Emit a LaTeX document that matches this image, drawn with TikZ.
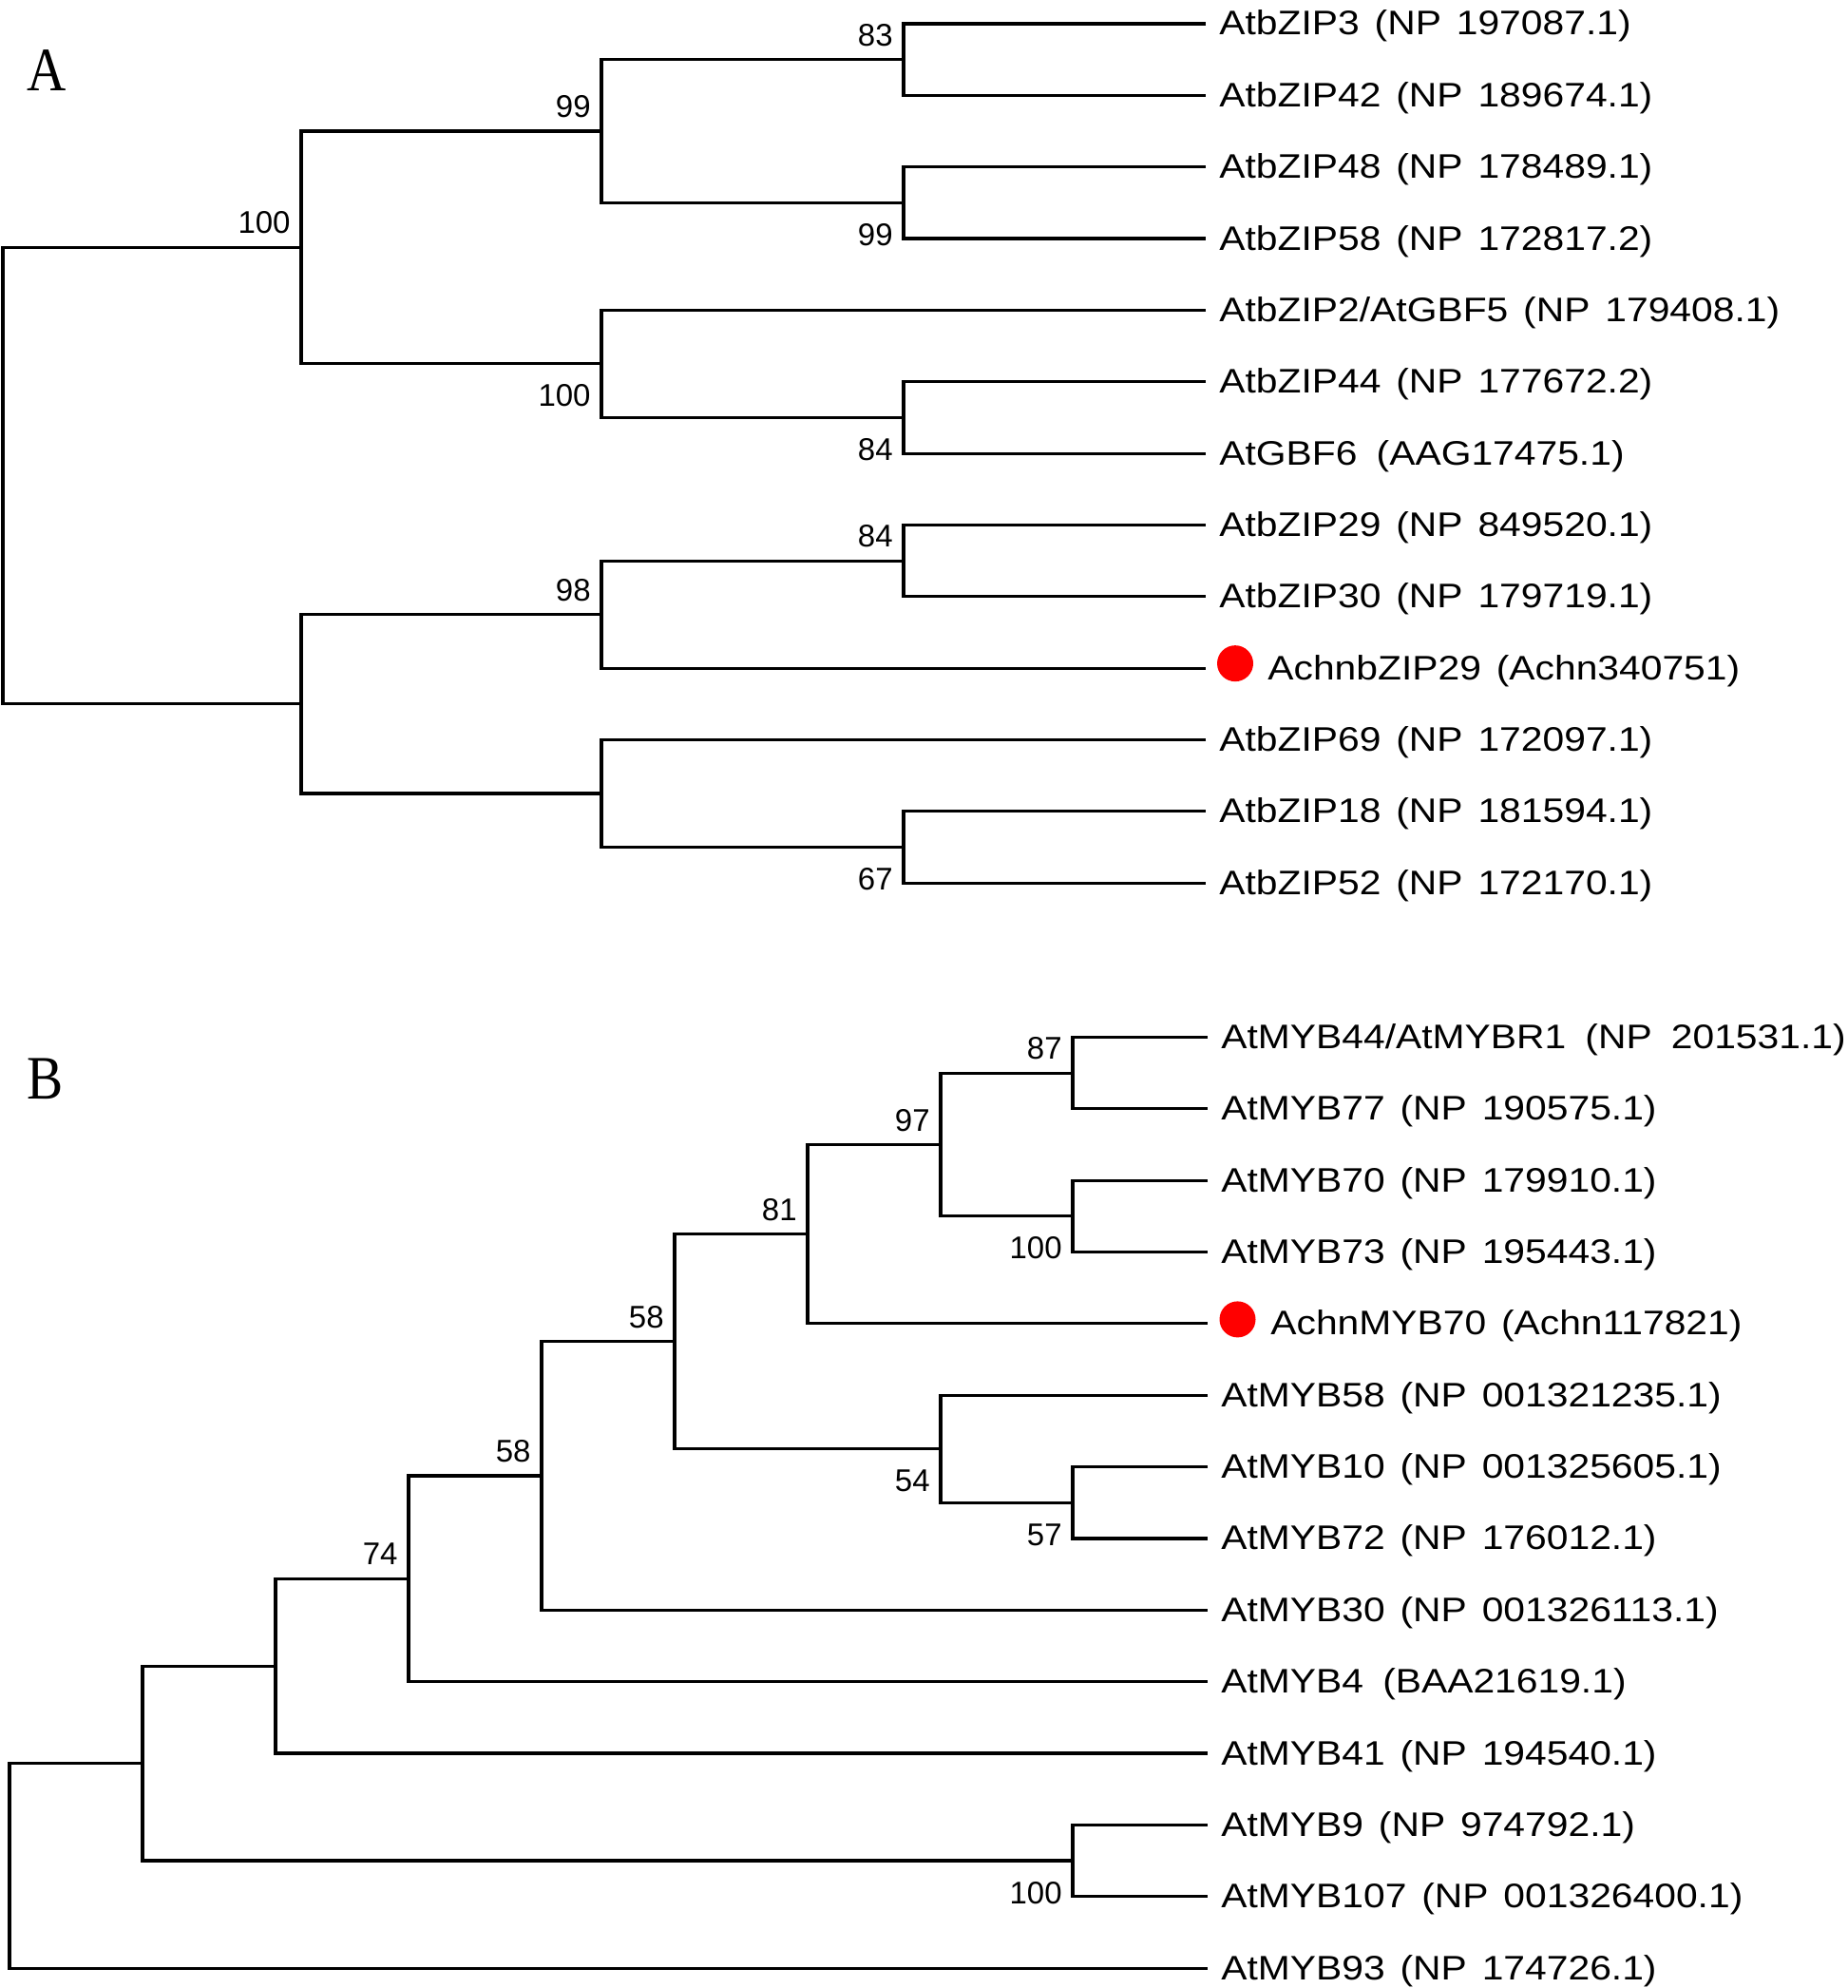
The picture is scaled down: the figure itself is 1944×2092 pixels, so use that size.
\documentclass[tikz,border=0pt]{standalone}
\usepackage{fontspec}
\setmainfont{Liberation Sans}
\newfontfamily\leaffont{Liberation Sans}[FakeStretch=1.14,WordSpace=1.4]
\newfontfamily\bootfont{Liberation Sans}
\newfontfamily\tagfont{Liberation Serif}[FakeStretch=0.88]
\begin{document}
\begin{tikzpicture}[x=0.5pt,y=-0.5pt,
  branch/.style={line width=1.55pt,line cap=butt,line join=miter},
  leaflab/.style={anchor=base west,inner sep=0pt,font=\leaffont\fontsize{17.9}{20}\selectfont},
  bsup/.style={anchor=base east,inner sep=0pt,font=\bootfont\fontsize{16.5}{18}\selectfont},
  paneltag/.style={anchor=base west,inner sep=0pt,font=\tagfont\fontsize{32.5}{36}\selectfont},
  hitdot/.style={fill={rgb,255:red,255;green,0;blue,0}}]
\fill[white] (0,0) rectangle (1944,2092);
\useasboundingbox (0,0) rectangle (1944,2092);

% ---------------- Panel A ----------------
\node[paneltag] (tagA) at (28,96) {A};
% leaves
\coordinate (La0) at (1269,25.0);
\coordinate (La1) at (1269,100.35);
\coordinate (La2) at (1269,175.7);
\coordinate (La3) at (1269,251.05);
\coordinate (La4) at (1269,326.4);
\coordinate (La5) at (1269,401.75);
\coordinate (La6) at (1269,477.1);
\coordinate (La7) at (1269,552.45);
\coordinate (La8) at (1269,627.8);
\coordinate (La9) at (1269,703.15);
\coordinate (La10) at (1269,778.5);
\coordinate (La11) at (1269,853.85);
\coordinate (La12) at (1269,929.2);
% internal nodes
\coordinate (a83) at (951,62.7);
\coordinate (a99b) at (951,213.4);
\coordinate (a99) at (633,138.0);
\coordinate (a84) at (951,439.4);
\coordinate (a100b) at (633,382.9);
\coordinate (a100) at (317,260.5);
\coordinate (a84b) at (951,590.1);
\coordinate (a98) at (633,646.6);
\coordinate (a67) at (951,891.5);
\coordinate (aL) at (633,835.0);
\coordinate (aR2) at (317,740.8);
\coordinate (aroot) at (3,500.7);
% branches
\draw[branch] (La0) -| (a83) |- (La1);
\draw[branch] (La2) -| (a99b) |- (La3);
\draw[branch] (a83) -| (a99) |- (a99b);
\draw[branch] (La5) -| (a84) |- (La6);
\draw[branch] (La4) -| (a100b) |- (a84);
\draw[branch] (a99) -| (a100) |- (a100b);
\draw[branch] (La7) -| (a84b) |- (La8);
\draw[branch] (a84b) -| (a98) |- (La9);
\draw[branch] (La11) -| (a67) |- (La12);
\draw[branch] (La10) -| (aL) |- (a67);
\draw[branch] (a98) -| (aR2) |- (aL);
\draw[branch] (a100) -| (aroot) |- (aR2);
% leaf labels
\node[leaflab] (ta0) at ([shift={(14,12)}]La0) {AtbZIP3 (NP 197087.1)};
\node[leaflab] (ta1) at ([shift={(14,12)}]La1) {AtbZIP42 (NP 189674.1)};
\node[leaflab] (ta2) at ([shift={(14,12)}]La2) {AtbZIP48 (NP 178489.1)};
\node[leaflab] (ta3) at ([shift={(14,12)}]La3) {AtbZIP58 (NP 172817.2)};
\node[leaflab] (ta4) at ([shift={(14,12)}]La4) {AtbZIP2/AtGBF5 (NP 179408.1)};
\node[leaflab] (ta5) at ([shift={(14,12)}]La5) {AtbZIP44 (NP 177672.2)};
\node[leaflab] (ta6) at ([shift={(14,12)}]La6) {AtGBF6\hspace{0.12em} (AAG17475.1)};
\node[leaflab] (ta7) at ([shift={(14,12)}]La7) {AtbZIP29 (NP 849520.1)};
\node[leaflab] (ta8) at ([shift={(14,12)}]La8) {AtbZIP30 (NP 179719.1)};
\fill[hitdot] ([shift={(31,-5)}]La9) circle[radius=9.5pt];
\node[leaflab] (ta9) at ([shift={(65,12)}]La9) {AchnbZIP29 (Achn340751)};
\node[leaflab] (ta10) at ([shift={(14,12)}]La10) {AtbZIP69 (NP 172097.1)};
\node[leaflab] (ta11) at ([shift={(14,12)}]La11) {AtbZIP18 (NP 181594.1)};
\node[leaflab] (ta12) at ([shift={(14,12)}]La12) {AtbZIP52 (NP 172170.1)};
% bootstrap values
\node[bsup] (ba100) at ([shift={(-11,-14.5)}]a100) {100};
\node[bsup] (ba99) at ([shift={(-11,-14.5)}]a99) {99};
\node[bsup] (ba83) at ([shift={(-11,-14.5)}]a83) {83};
\node[bsup] (ba99b) at ([shift={(-11,45)}]a99b) {99};
\node[bsup] (ba100b) at ([shift={(-11,45)}]a100b) {100};
\node[bsup] (ba84) at ([shift={(-11,45)}]a84) {84};
\node[bsup] (ba98) at ([shift={(-11,-14.5)}]a98) {98};
\node[bsup] (ba84b) at ([shift={(-11,-14.5)}]a84b) {84};
\node[bsup] (ba67) at ([shift={(-11,45)}]a67) {67};

% ---------------- Panel B ----------------
\node[paneltag] (tagB) at (28,1156) {B};
\coordinate (Lb0) at (1271,1091.5);
\coordinate (Lb1) at (1271,1166.85);
\coordinate (Lb2) at (1271,1242.2);
\coordinate (Lb3) at (1271,1317.55);
\coordinate (Lb4) at (1271,1392.9);
\coordinate (Lb5) at (1271,1468.25);
\coordinate (Lb6) at (1271,1543.6);
\coordinate (Lb7) at (1271,1618.95);
\coordinate (Lb8) at (1271,1694.3);
\coordinate (Lb9) at (1271,1769.65);
\coordinate (Lb10) at (1271,1845.0);
\coordinate (Lb11) at (1271,1920.35);
\coordinate (Lb12) at (1271,1995.7);
\coordinate (Lb13) at (1271,2071.05);
\coordinate (b87) at (1129,1129.2);
\coordinate (b100a) at (1129,1279.9);
\coordinate (b97) at (990,1204.5);
\coordinate (b81) at (850,1298.7);
\coordinate (b57) at (1129,1581.3);
\coordinate (b54) at (990,1524.8);
\coordinate (b58a) at (710,1411.8);
\coordinate (b58b) at (570,1553.0);
\coordinate (b74) at (430,1661.3);
\coordinate (bN1) at (290,1753.2);
\coordinate (b100b) at (1129,1958.0);
\coordinate (bN2) at (150,1855.6);
\coordinate (broot) at (10,1963.3);
\draw[branch] (Lb0) -| (b87) |- (Lb1);
\draw[branch] (Lb2) -| (b100a) |- (Lb3);
\draw[branch] (b87) -| (b97) |- (b100a);
\draw[branch] (b97) -| (b81) |- (Lb4);
\draw[branch] (Lb6) -| (b57) |- (Lb7);
\draw[branch] (Lb5) -| (b54) |- (b57);
\draw[branch] (b81) -| (b58a) |- (b54);
\draw[branch] (b58a) -| (b58b) |- (Lb8);
\draw[branch] (b58b) -| (b74) |- (Lb9);
\draw[branch] (b74) -| (bN1) |- (Lb10);
\draw[branch] (Lb11) -| (b100b) |- (Lb12);
\draw[branch] (bN1) -| (bN2) |- (b100b);
\draw[branch] (bN2) -| (broot) |- (Lb13);
\node[leaflab] (tb0) at ([shift={(14,12)}]Lb0) {AtMYB44/AtMYBR1\hspace{0.12em} (NP\hspace{0.12em} 201531.1)};
\node[leaflab] (tb1) at ([shift={(14,12)}]Lb1) {AtMYB77 (NP 190575.1)};
\node[leaflab] (tb2) at ([shift={(14,12)}]Lb2) {AtMYB70 (NP 179910.1)};
\node[leaflab] (tb3) at ([shift={(14,12)}]Lb3) {AtMYB73 (NP 195443.1)};
\fill[hitdot] ([shift={(31.5,-4.5)}]Lb4) circle[radius=9.5pt];
\node[leaflab] (tb4) at ([shift={(66,12)}]Lb4) {AchnMYB70 (Achn117821)};
\node[leaflab] (tb5) at ([shift={(14,12)}]Lb5) {AtMYB58 (NP 001321235.1)};
\node[leaflab] (tb6) at ([shift={(14,12)}]Lb6) {AtMYB10 (NP 001325605.1)};
\node[leaflab] (tb7) at ([shift={(14,12)}]Lb7) {AtMYB72 (NP 176012.1)};
\node[leaflab] (tb8) at ([shift={(14,12)}]Lb8) {AtMYB30 (NP 001326113.1)};
\node[leaflab] (tb9) at ([shift={(14,12)}]Lb9) {AtMYB4\hspace{0.12em} (BAA21619.1)};
\node[leaflab] (tb10) at ([shift={(14,12)}]Lb10) {AtMYB41 (NP 194540.1)};
\node[leaflab] (tb11) at ([shift={(14,12)}]Lb11) {AtMYB9 (NP 974792.1)};
\node[leaflab] (tb12) at ([shift={(14,12)}]Lb12) {AtMYB107 (NP 001326400.1)};
\node[leaflab] (tb13) at ([shift={(14,12)}]Lb13) {AtMYB93 (NP 174726.1)};
\node[bsup] (bb87) at ([shift={(-11,-14.5)}]b87) {87};
\node[bsup] (bb100a) at ([shift={(-11,45)}]b100a) {100};
\node[bsup] (bb97) at ([shift={(-11,-14.5)}]b97) {97};
\node[bsup] (bb81) at ([shift={(-11,-14.5)}]b81) {81};
\node[bsup] (bb58a) at ([shift={(-11,-14.5)}]b58a) {58};
\node[bsup] (bb58b) at ([shift={(-11,-14.5)}]b58b) {58};
\node[bsup] (bb74) at ([shift={(-11,-14.5)}]b74) {74};
\node[bsup] (bb54) at ([shift={(-11,45)}]b54) {54};
\node[bsup] (bb57) at ([shift={(-11,45)}]b57) {57};
\node[bsup] (bb100b) at ([shift={(-11,45)}]b100b) {100};
\end{tikzpicture}
\end{document}
